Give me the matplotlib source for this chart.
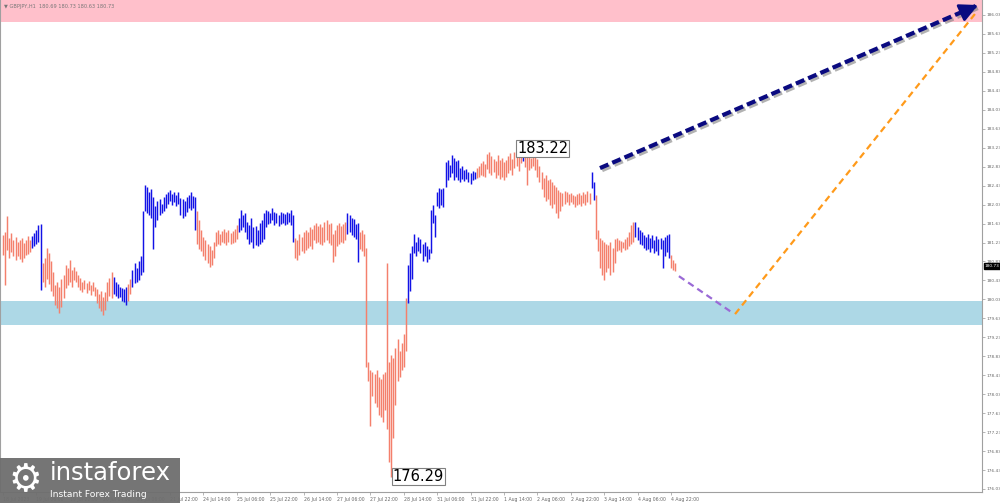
import numpy as np
import matplotlib
matplotlib.use("Agg")
import matplotlib.pyplot as plt
import matplotlib.patheffects as pe
from matplotlib.patches import Rectangle

# ---- datos (GBPJPY H1) ----
highs = [
    181.39, 181.46, 181.79, 181.33, 181.43, 181.29, 181.35, 181.24, 181.29, 181.33, 181.22, 181.29, 181.37, 181.29, 181.37, 181.43,
    181.50, 181.60, 181.62, 180.80, 180.90, 181.12, 181.00, 180.85, 180.60, 180.34, 180.40, 180.30, 180.45, 180.55, 180.76, 180.70,
    180.86, 180.65, 180.72, 180.62, 180.55, 180.49, 180.40, 180.44, 180.37, 180.42, 180.34, 180.40, 180.30, 180.25, 180.15, 180.20,
    180.08, 180.18, 180.40, 180.49, 180.60, 180.50, 180.40, 180.35, 180.30, 180.28, 180.25, 180.30, 180.35, 180.45, 180.65, 180.80,
    180.70, 180.85, 180.95, 181.90, 182.45, 182.40, 182.30, 182.35, 182.20, 182.00, 182.10, 182.15, 182.05, 182.20, 182.25, 182.30,
    182.34, 182.26, 182.30, 182.24, 182.30, 182.17, 182.15, 182.10, 182.20, 182.24, 182.30, 182.22, 182.20, 181.90, 181.70, 181.50,
    181.35, 181.29, 181.20, 181.15, 181.08, 181.25, 181.45, 181.50, 181.42, 181.48, 181.52, 181.46, 181.50, 181.44, 181.48, 181.52,
    181.60, 181.75, 181.92, 181.80, 181.85, 181.67, 181.60, 181.75, 181.55, 181.58, 181.50, 181.65, 181.70, 181.85, 181.92, 181.90,
    181.85, 181.95, 181.88, 181.85, 181.82, 181.88, 181.86, 181.84, 181.88, 181.85, 181.92, 181.80, 181.33, 181.29, 181.40, 181.35,
    181.45, 181.50, 181.46, 181.55, 181.52, 181.60, 181.64, 181.58, 181.62, 181.55, 181.66, 181.70, 181.62, 181.64, 181.40, 181.50,
    181.60, 181.65, 181.58, 181.62, 181.67, 181.85, 181.80, 181.75, 181.72, 181.62, 181.65, 181.45, 181.50, 181.42, 181.12, 178.70,
    178.55, 178.50, 178.45, 178.55, 178.40, 178.35, 178.45, 178.50, 180.80, 178.70, 178.85, 178.80, 179.00, 179.20, 178.95, 179.10,
    179.30, 180.05, 180.75, 181.00, 181.15, 181.40, 181.25, 181.35, 181.30, 181.20, 181.25, 181.15, 181.10, 181.92, 182.02, 181.80,
    182.30, 182.38, 182.35, 182.38, 182.93, 182.97, 182.87, 183.08, 183.02, 182.95, 182.97, 182.80, 182.85, 182.76, 182.78, 182.72,
    182.70, 182.74, 182.72, 182.80, 182.85, 182.90, 182.95, 182.88, 183.10, 183.14, 183.05, 183.00, 182.96, 183.08, 182.98, 183.02,
    182.93, 182.98, 183.05, 183.12, 183.00, 183.14, 183.16, 183.10, 183.20, 183.22, 183.15, 183.05, 183.12, 183.02, 183.14, 183.08,
    183.00, 182.85, 182.72, 182.60, 182.66, 182.55, 182.58, 182.50, 182.45, 182.40, 182.34, 182.30, 182.28, 182.32, 182.30, 182.26,
    182.28, 182.24, 182.22, 182.26, 182.28, 182.24, 182.30, 182.26, 182.32, 182.28, 182.72, 182.50, 182.24, 181.50, 181.33, 181.29,
    181.24, 181.20, 181.18, 181.24, 181.12, 181.30, 181.33, 181.29, 181.26, 181.24, 181.30, 181.35, 181.45, 181.60, 181.67, 181.67,
    181.55, 181.50, 181.46, 181.39, 181.35, 181.42, 181.33, 181.39, 181.29, 181.37, 181.30, 181.33, 181.29, 181.35, 181.39, 181.40,
    180.97, 180.86, 180.80,
]
lows = [
    180.97, 180.34, 181.08, 180.91, 181.03, 180.95, 180.86, 180.95, 180.89, 180.82, 180.91, 180.97, 180.99, 181.03, 181.12, 181.16,
    181.20, 181.25, 180.23, 180.40, 180.30, 180.46, 180.36, 180.20, 180.10, 179.92, 179.85, 179.75, 179.88, 180.05, 180.27, 180.34,
    180.40, 180.30, 180.44, 180.40, 180.30, 180.23, 180.19, 180.25, 180.17, 180.22, 180.13, 180.20, 180.10, 179.95, 179.85, 179.78,
    179.70, 179.80, 180.00, 180.10, 180.05, 180.15, 180.10, 180.05, 180.08, 180.00, 179.98, 179.92, 180.00, 180.15, 180.30, 180.38,
    180.40, 180.44, 180.55, 180.60, 181.90, 181.85, 181.80, 181.75, 181.10, 181.55, 181.70, 181.80, 181.85, 181.90, 181.95, 182.05,
    182.10, 182.02, 182.08, 182.00, 182.05, 181.80, 181.75, 181.78, 181.88, 181.95, 181.92, 181.96, 181.50, 181.20, 181.10, 181.05,
    180.95, 180.86, 180.80, 180.72, 180.76, 180.90, 181.15, 181.20, 181.18, 181.25, 181.22, 181.18, 181.24, 181.20, 181.22, 181.25,
    181.30, 181.45, 181.50, 181.55, 181.46, 181.30, 181.20, 181.25, 181.12, 181.18, 181.15, 181.20, 181.25, 181.30, 181.55, 181.62,
    181.65, 181.70, 181.60, 181.65, 181.58, 181.62, 181.64, 181.60, 181.62, 181.66, 181.60, 181.24, 180.91, 180.86, 180.97, 181.05,
    181.00, 181.08, 181.12, 181.15, 181.10, 181.28, 181.22, 181.25, 181.20, 181.18, 181.25, 181.28, 181.22, 181.18, 180.82, 180.95,
    181.15, 181.20, 181.25, 181.22, 181.28, 181.40, 181.45, 181.38, 181.35, 181.30, 180.82, 181.10, 181.05, 180.95, 178.61, 178.30,
    177.35, 178.00, 177.85, 177.75, 177.60, 177.55, 177.45, 177.70, 177.30, 176.60, 176.29, 177.10, 177.80, 178.30, 178.40, 178.55,
    178.60, 178.95, 179.95, 180.20, 180.45, 181.00, 180.95, 181.05, 181.00, 180.85, 180.95, 180.82, 180.88, 181.00, 181.65, 181.35,
    182.00, 181.96, 182.02, 181.98, 182.40, 182.55, 182.62, 182.70, 182.55, 182.62, 182.55, 182.50, 182.58, 182.52, 182.56, 182.50,
    182.46, 182.55, 182.58, 182.60, 182.62, 182.66, 182.64, 182.62, 182.78, 182.70, 182.66, 182.72, 182.60, 182.65, 182.58, 182.62,
    182.55, 182.62, 182.70, 182.76, 182.66, 182.80, 182.85, 182.74, 182.90, 182.95, 182.82, 182.45, 182.75, 182.80, 182.85, 182.75,
    182.62, 182.50, 182.35, 182.20, 182.10, 182.15, 182.02, 181.96, 182.05, 181.85, 181.75, 181.90, 182.00, 182.05, 182.08, 182.02,
    182.09, 182.05, 181.98, 182.02, 182.04, 182.00, 182.06, 182.02, 182.08, 182.04, 182.38, 182.13, 181.30, 181.05, 180.70, 180.55,
    180.44, 180.60, 180.70, 180.55, 180.60, 180.80, 181.05, 181.08, 181.03, 181.12, 181.08, 181.10, 181.15, 181.20, 181.25, 181.35,
    181.29, 181.20, 181.18, 181.12, 181.08, 181.10, 181.03, 181.12, 181.00, 181.05, 180.97, 181.10, 180.70, 180.95, 181.03, 180.90,
    180.70, 180.65, 180.62,
]
# tramos de color: (numero de barras, 'd' = bajista salmon, 'u' = alcista azul)
tramos = [(14, "d"), (5, "u"), (34, "d"), (7, "u"), (2, "d"), (31, "u"), (20, "d"), (27, "u"),
          (25, "d"), (6, "u"), (23, "d"), (33, "u"), (22, "d"), (1, "u"), (32, "d"), (2, "u"),
          (19, "d"), (17, "u"), (3, "d")]

x_labels = ["18 Jul 2023", "19 Jul 06:00", "19 Jul 22:00", "20 Jul 14:00", "21 Jul 06:00",
            "21 Jul 22:00", "24 Jul 14:00", "25 Jul 06:00", "25 Jul 22:00", "26 Jul 14:00",
            "27 Jul 06:00", "27 Jul 22:00", "28 Jul 14:00", "31 Jul 06:00", "31 Jul 22:00",
            "1 Aug 14:00", "2 Aug 06:00", "2 Aug 22:00", "3 Aug 14:00", "4 Aug 06:00", "4 Aug 22:00"]
y_ticks = [176.03 + 0.4 * k for k in range(26)]

zona_venta = (185.89, 186.40)     # zona rosa arriba
zona_soporte = (179.50, 180.00)   # zona azul
onda_morada_x = [323.8, 349.7]
onda_morada_y = [180.52, 179.74]
onda_naranja_x = [350.7, 465.6]
onda_naranja_y = [179.72, 186.05]
onda_azul_x = [286.0, 467.1]
onda_azul_y = [182.80, 186.24]
max_label = (246.3, 183.22)
min_label = (186.8, 176.29)
precio_actual = 180.73
titulo = "\u25bc GBPJPY,H1  180.69 180.73 180.63 180.73"

# ---- figura ----
fig = plt.figure(figsize=(10, 5.03), dpi=100)
ax = fig.add_axes([0, 0.0219, 0.982, 0.9781])

colores = []
for n, t in tramos:
    colores += ["#f4806c" if t == "d" else "#1212e6"] * n
idx = np.arange(len(highs))
ax.vlines(idx, lows, highs, colors=colores, linewidth=1.05, zorder=3)

ax.axhspan(zona_venta[0], zona_venta[1], color="#ffc0cb", zorder=1, lw=0)
ax.axhspan(zona_soporte[0], zona_soporte[1], color="#add8e6", zorder=1, lw=0)

ax.plot(onda_morada_x, onda_morada_y, color="#9a6ad6", lw=1.6, dashes=(3, 2), zorder=4)
ax.plot(onda_naranja_x, onda_naranja_y, color="#ff9a1a", lw=1.6, dashes=(3, 2), zorder=4)
sombra = [pe.SimpleLineShadow(offset=(1.5, -1.5), shadow_color="gray", alpha=0.6), pe.Normal()]
ax.plot(onda_azul_x, onda_azul_y, color="#0a0a80", lw=3, dashes=(2.2, 1.0), zorder=5,
        path_effects=sombra, dash_capstyle="butt")
ax.annotate("", xy=(onda_azul_x[1], onda_azul_y[1]),
            xytext=(onda_azul_x[1] - 8, onda_azul_y[1] - 0.16),
            arrowprops=dict(arrowstyle="-|>,head_length=1.1,head_width=0.55", color="#0a0a80",
                            lw=2, shrinkA=0, shrinkB=0), zorder=6)

caja = dict(boxstyle="square,pad=0.08", fc="white", ec="#808080", lw=0.8)
ax.text(max_label[0], max_label[1], f"{max_label[1]:.2f}", fontsize=10.5, ha="left",
        va="center", bbox=caja, zorder=7)
ax.text(min_label[0], min_label[1], f"{min_label[1]:.2f}", fontsize=10.5, ha="left",
        va="center", bbox=caja, zorder=7)

ax.set_xlim(-1.44, 469.0)
ax.set_ylim(175.967, 186.346)

ax.set_xticks([16 * k for k in range(len(x_labels))])
ax.set_xticklabels(x_labels)
for lab in ax.get_xticklabels():
    lab.set_ha("left")
ax.tick_params(axis="x", direction="out", length=2, width=0.5, color="#999999",
               labelsize=3.3, labelcolor="#666666", pad=1.5)

ax.yaxis.tick_right()
ax.set_yticks(y_ticks)
ax.set_yticklabels([f"{v:.2f}" for v in y_ticks])
ax.tick_params(axis="y", direction="out", length=2, width=0.5, color="#999999",
               labelsize=3.1, labelcolor="#666666", pad=1.5)

for lado in ["left", "right", "bottom"]:
    ax.spines[lado].set_color("#a0a0a0")
    ax.spines[lado].set_linewidth(0.8)
ax.spines["top"].set_visible(False)

ax.text(1.003, precio_actual, f"{precio_actual:.2f}", transform=ax.get_yaxis_transform(),
        fontsize=3.1, color="white", va="center", ha="left",
        bbox=dict(boxstyle="square,pad=0.25", fc="black", ec="black"), clip_on=False)

fig.text(0.004, 0.988, titulo, fontsize=3.6, color="#777777", va="center", ha="left")

# logo
fig.patches.append(Rectangle((0, 0), 0.18, 0.09, transform=fig.transFigure,
                             fc="#6e6e6e", ec="none", alpha=0.95, zorder=10))
fig.text(0.025, 0.043, "\u2699", fontsize=27, color="white", ha="center", va="center", zorder=11)
fig.text(0.05, 0.045, "instaforex", fontsize=17.5, color="white", ha="left",
         va="baseline", zorder=11)
fig.text(0.05, 0.012, "Instant Forex Trading", fontsize=6.6, color="white", ha="left",
         va="baseline", zorder=11)

fig.savefig("out.png", dpi=100)
